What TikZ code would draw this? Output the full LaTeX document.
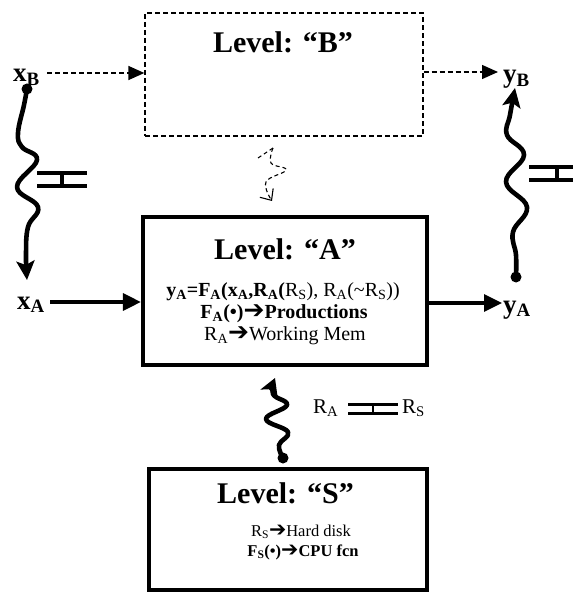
\documentclass[tikz,border=0pt]{standalone}
\usepackage{fontspec}
\setmainfont{Liberation Serif}
\newfontfamily\dvfont{DejaVu Sans}
\usetikzlibrary{arrows.meta}
\newcommand\sbs[1]{\textsubscript{#1}}
\newcommand\harr{{\dvfont\mdseries\scalebox{1.25}{➔}}}
\begin{document}
\begin{tikzpicture}[x=1pt,y=-1pt,
  every node/.style={inner sep=0pt},
  title/.style={font=\bfseries\fontsize{30}{32}\selectfont, anchor=base},
  body/.style={font=\fontsize{20}{22}\selectfont, anchor=base},
  small/.style={font=\fontsize{16.5}{18}\selectfont, anchor=base},
  rlab/.style={font=\fontsize{21}{22}\selectfont, anchor=base west},
  sig/.style={font=\bfseries\fontsize{27}{28}\selectfont, anchor=base west},
  bigbox/.style={draw, line width=4.2pt, inner sep=0pt},
  dbox/.style={draw, line width=1.3pt, dash pattern=on 5pt off 3pt, inner sep=0pt},
  wig/.style={line width=4.6pt, line cap=round, line join=round},
  harrow/.style={line width=3.2pt, -{Triangle[length=18pt,width=17pt]}},
  darrow/.style={line width=1.4pt, dash pattern=on 5pt off 3pt, -{Triangle[length=16pt,width=14pt]}},
  bigtip/.style={-{Stealth[length=19pt,width=18pt,inset=4pt]}},
  eqbar/.style={line width=3.6pt},
  dotst/.style={fill, circle, minimum size=11pt},
  sqdash/.style={line width=1.1pt, dash pattern=on 4pt off 3pt},
]
\useasboundingbox (0,0) rectangle (572,593);

% boxes
\node[dbox, minimum width=278pt, minimum height=123pt] (B) at (284,74.5) {};
\node[bigbox, minimum width=284pt, minimum height=148pt] (A) at (285,291) {};
\node[bigbox, minimum width=278pt, minimum height=121pt] (S) at (288,529.5) {};

% titles
\node[title] (Bt) at (283,53) {Level: “B”};
\node[title] (At) at (285,259) {Level: “A”};
\node[title] (St) at (285.5,503) {Level: “S”};

% texts in A
\node[body] (A1) at (283,296) {{\bfseries y\sbs{A}=F\sbs{A}(x\sbs{A},R\sbs{A}(}R\sbs{S}), R\sbs{A}(\textasciitilde R\sbs{S}))};
\node[body] (A2) at (284,318) {\bfseries F\sbs{A}(•)\harr Productions};
\node[body] (A3) at (285,340) {R\sbs{A}\harr Working Mem};

% texts in S
\node[small] (S1) at (301,536) {R\sbs{S}\harr Hard disk};
\node[small] (S2) at (303,556) {\bfseries F\sbs{S}(•)\harr CPU fcn};

% signals
\node[sig] (xB) at (13,82) {x\sbs{B}};
\node[sig] (yB) at (503,83) {y\sbs{B}};
\node[sig] (xA) at (17,309) {x\sbs{A}};
\node[sig] (yA) at (503,313) {y\sbs{A}};

% dots
\node[dotst] (xBdot) at (27,89) {};
\node[dotst] (yAdot) at (516,277) {};
\node[dotst] (Sdot) at (283,458) {};

% wiggly connectors
\draw[wig, bigtip] plot[smooth, tension=0.7] coordinates {(xBdot.center) (24,105) (18,133) (22,147) (37,160) (17,187) (38,207) (28,227) (26,255) (27,280)};
\draw[wig, bigtip] plot[smooth, tension=0.7] coordinates {(yAdot.center) (516,255) (513,232) (527,207) (506,182) (524,155) (507,135) (510,115) (515,88)};
\draw[wig, -{Stealth[length=16pt,width=18pt,inset=4pt]}] plot[smooth, tension=0.7] coordinates {(Sdot.center) (279,445) (288,432) (266,419) (287,405) (273,394) (275,378)};

% equivalence symbols
\draw[eqbar] (37,173) -- (87,173) (37,186) -- (87,186);
\draw[line width=3.2pt] (62,173) -- (62,186);
\draw[eqbar] (529,167) -- (590,167) (529,180) -- (590,180);
\draw[line width=3.2pt] (557,167) -- (557,180);
\draw[line width=3pt] (348,404) -- (398,404) (348,413) -- (398,413);
\draw[line width=2.8pt] (373,404) -- (373,413);
\node[rlab] (RA) at (313,413) {R\sbs{A}};
\node[rlab] (RS) at (402,413) {R\sbs{S}};

% straight arrows
\coordinate (xAo) at (50,302);
\draw[harrow] (xAo) -- (xAo -| A.west);
\coordinate (yAi) at (502,303);
\draw[harrow] (yAi -| A.east) -- (yAi);

% dashed arrows
\coordinate (xBo) at (47,73);
\draw[darrow] (xBo) -- (xBo -| B.west);
\coordinate (yBi) at (498,72);
\draw[darrow] (yBi -| B.east) -- (yBi);

% dashed squiggle from B to A
\draw[sqdash] (258,158) -- (273,148);
\draw[sqdash, -{Straight Barb[length=9pt,width=16pt]}] plot[smooth, tension=0.7] coordinates {(273,148) (271,163) (286,170) (266,182) (272,201)};
\end{tikzpicture}
\end{document}
